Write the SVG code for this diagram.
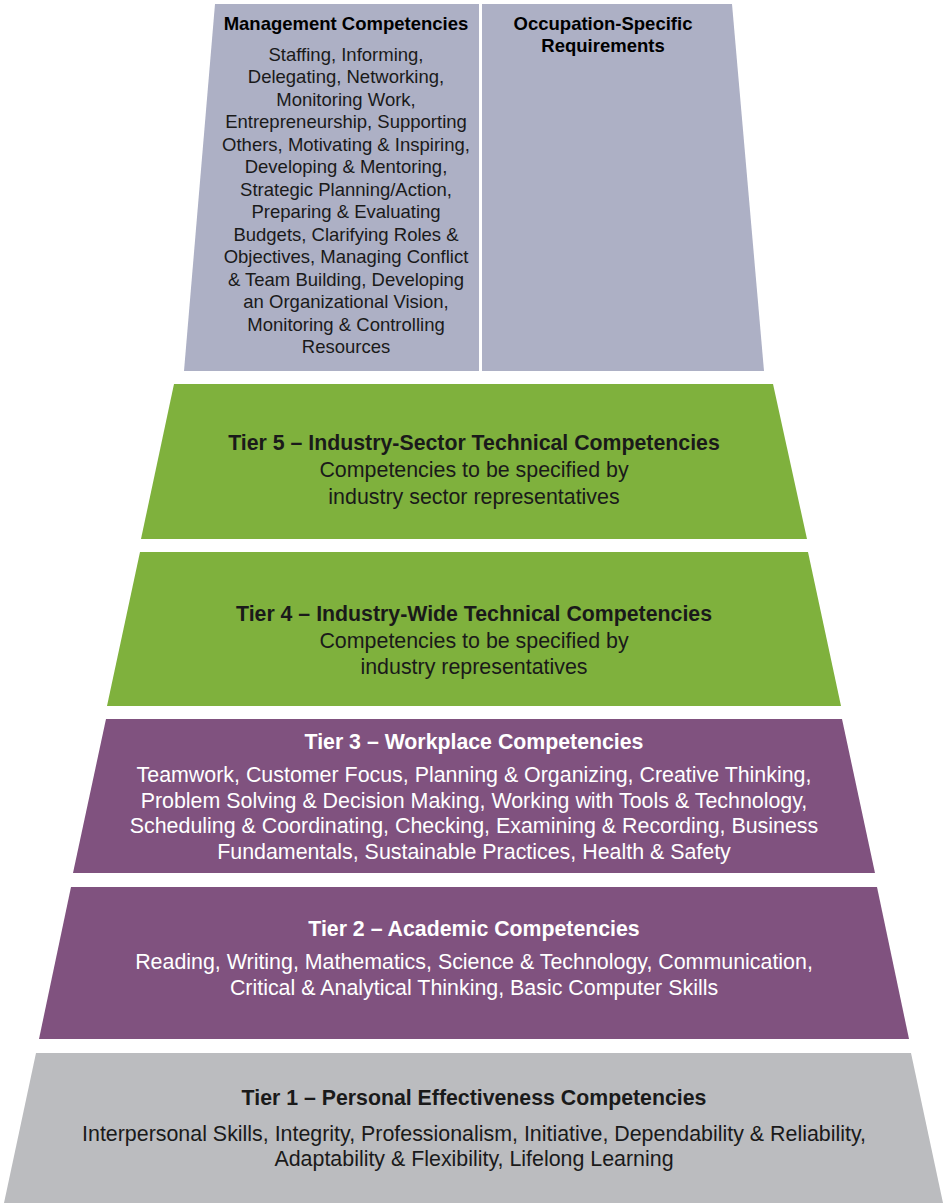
<svg xmlns="http://www.w3.org/2000/svg" width="947" height="1203" viewBox="0 0 947 1203">
<style>
text{font-family:"Liberation Sans",Arial,sans-serif;text-anchor:middle}
.h{font-weight:bold;font-size:18.5px;fill:#000}
.b{font-size:18.5px;fill:#1a1a1a}
.t{font-weight:bold;font-size:21.3px}
.d{font-size:21.4px}
.dk{fill:#1a1a1a}
.w{fill:#fff}
</style>
<rect width="947" height="1203" fill="#fff"/>
<g id="management">
<polygon points="215,4 479,4 479,371 184,371" fill="#ADB0C5"/>
<text class="h" x="346" y="29.5">Management Competencies</text>
<text class="b" x="346" y="60.5">Staffing, Informing,</text>
<text class="b" x="346" y="83">Delegating, Networking,</text>
<text class="b" x="346" y="105.5">Monitoring Work,</text>
<text class="b" x="346" y="128">Entrepreneurship, Supporting</text>
<text class="b" x="346" y="150.5">Others, Motivating &amp; Inspiring,</text>
<text class="b" x="346" y="173">Developing &amp; Mentoring,</text>
<text class="b" x="346" y="195.5">Strategic Planning/Action,</text>
<text class="b" x="346" y="218">Preparing &amp; Evaluating</text>
<text class="b" x="346" y="240.5">Budgets, Clarifying Roles &amp;</text>
<text class="b" x="346" y="263">Objectives, Managing Conflict</text>
<text class="b" x="346" y="285.5">&amp; Team Building, Developing</text>
<text class="b" x="346" y="308">an Organizational Vision,</text>
<text class="b" x="346" y="330.5">Monitoring &amp; Controlling</text>
<text class="b" x="346" y="353">Resources</text>
</g>
<g id="occupation">
<polygon points="482,4 732,4 764,371 482,371" fill="#ADB0C5"/>
<text class="h" x="603" y="29.5">Occupation-Specific</text>
<text class="h" x="603" y="52">Requirements</text>
</g>
<g id="tier5">
<polygon points="174,384 773,384 807,539 141,539" fill="#7FB13D"/>
<text class="t dk" x="474" y="449.5">Tier 5 – Industry-Sector Technical Competencies</text>
<text class="d dk" x="474" y="476.5">Competencies to be specified by</text>
<text class="d dk" x="474" y="503.5">industry sector representatives</text>
</g>
<g id="tier4">
<polygon points="140,552 808,552 841,706 107,706" fill="#7FB13D"/>
<text class="t dk" x="474" y="620.5">Tier 4 – Industry-Wide Technical Competencies</text>
<text class="d dk" x="474" y="647.5">Competencies to be specified by</text>
<text class="d dk" x="474" y="673.5">industry representatives</text>
</g>
<g id="tier3">
<polygon points="106,719 842,719 875,873 73,873" fill="#80527F"/>
<text class="t w" x="474" y="748.5">Tier 3 – Workplace Competencies</text>
<text class="d w" x="474" y="781.5">Teamwork, Customer Focus, Planning &amp; Organizing, Creative Thinking,</text>
<text class="d w" x="474" y="807.5">Problem Solving &amp; Decision Making, Working with Tools &amp; Technology,</text>
<text class="d w" x="474" y="832.5">Scheduling &amp; Coordinating, Checking, Examining &amp; Recording, Business</text>
<text class="d w" x="474" y="858.5">Fundamentals, Sustainable Practices, Health &amp; Safety</text>
</g>
<g id="tier2">
<polygon points="71,887 877,887 909,1039 39,1039" fill="#80527F"/>
<text class="t w" x="474" y="935.5">Tier 2 – Academic Competencies</text>
<text class="d w" x="474" y="968.5">Reading, Writing, Mathematics, Science &amp; Technology, Communication,</text>
<text class="d w" x="474" y="994.5">Critical &amp; Analytical Thinking, Basic Computer Skills</text>
</g>
<g id="tier1">
<polygon points="36,1053 911,1053 943,1203 4,1203" fill="#BBBCBF"/>
<text class="t dk" x="474" y="1104.5">Tier 1 – Personal Effectiveness Competencies</text>
<text class="d dk" x="474" y="1140.5">Interpersonal Skills, Integrity, Professionalism, Initiative, Dependability &amp; Reliability,</text>
<text class="d dk" x="474" y="1165.5">Adaptability &amp; Flexibility, Lifelong Learning</text>
</g>
<g id="connectors"/>
</svg>
